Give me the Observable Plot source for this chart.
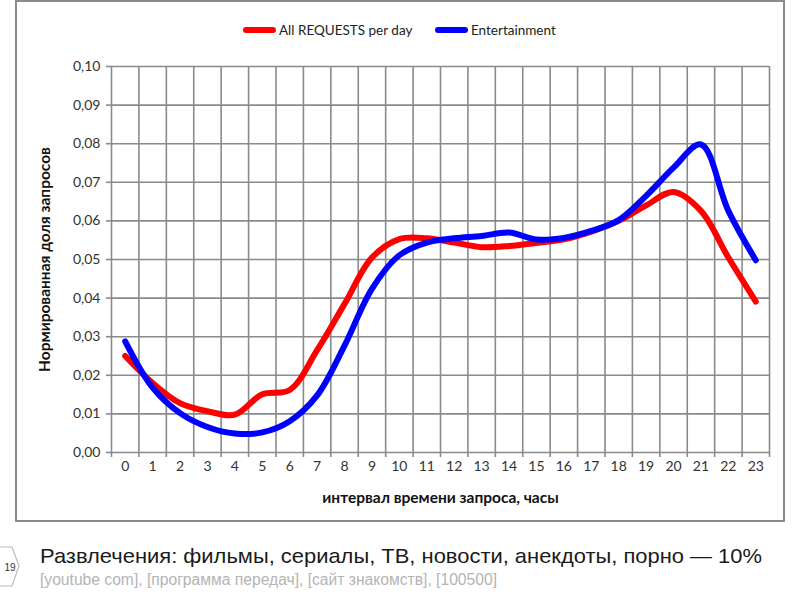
<!DOCTYPE html>
<html><head><meta charset="utf-8">
<script src="https://cdn.jsdelivr.net/npm/d3@7"></script>
<script src="https://cdn.jsdelivr.net/npm/@observablehq/plot@0.6"></script>
<style>
body{margin:0;background:#fff;width:800px;height:600px;position:relative;overflow:hidden;font-family:"Liberation Sans",Arial,sans-serif}
#frame{position:absolute;left:15px;top:0;width:766px;height:518px;border:2px solid #8c8c8c;background:#fff}
#legend{height:46px;position:relative;font-family:Lato,"Open Sans",sans-serif;font-size:13.5px;color:#222}
.item{position:absolute;top:28px;transform:translateY(-50%);display:flex;align-items:center;white-space:nowrap}
.sw{width:33px;height:6px;border-radius:3px;margin-right:3px}
#chart svg{display:block}
#tab{position:absolute;left:0;top:545px}
#cap{position:absolute;left:40px;top:544px;font-size:21px;color:#1a1a1a;white-space:nowrap;transform-origin:0 0}
#sub{position:absolute;left:40px;top:571px;font-size:16px;color:#b4b4b4;white-space:nowrap;transform-origin:0 0}
</style></head>
<body>
<div id="frame">
  <div id="legend"></div>
  <div id="chart"></div>
</div>
<svg id="tab" width="30" height="45"><polyline points="-1,2 12,2 19,21 12,41 -1,41" fill="none" stroke="#bbb" stroke-width="1.2"/><text x="10" y="26" font-size="10" fill="#333" text-anchor="middle" font-family="Liberation Sans">19</text></svg>
<div id="cap">Развлечения: фильмы, сериалы, ТВ, новости, анекдоты, порно — 10%</div>
<div id="sub">[youtube com], [программа передач], [сайт знакомств], [100500]</div>
<script>
const hours = [0,1,2,3,4,5,6,7,8,9,10,11,12,13,14,15,16,17,18,19,20,21,22,23];
const allRequests = [0.025,0.018,0.0128,0.0107,0.0098,0.0151,0.0162,0.0265,0.0385,0.0505,0.0553,0.0555,0.0544,0.0532,0.0535,0.0543,0.0552,0.0572,0.0600,0.0640,0.0675,0.0626,0.0505,0.0391];
const entertainment = [0.0288,0.0168,0.0102,0.0066,0.0049,0.0052,0.0081,0.0148,0.0277,0.0424,0.0511,0.0544,0.0555,0.0561,0.0570,0.0552,0.0556,0.0574,0.0602,0.0665,0.0738,0.0798,0.0626,0.0498];
const seriesNames = ["All REQUESTS per day","Entertainment"];
const seriesColors = ["#ff0000","#0000ff"];
const yTicks = [0,0.01,0.02,0.03,0.04,0.05,0.06,0.07,0.08,0.09,0.10];
const boundaries = [-0.5,0.5,1.5,2.5,3.5,4.5,5.5,6.5,7.5,8.5,9.5,10.5,11.5,12.5,13.5,14.5,15.5,16.5,17.5,18.5,19.5,20.5,21.5,22.5,23.5];
const yTitle = "Нормированная доля запросов";
const xTitle = "интервал времени запроса, часы";

const rows = [];
hours.forEach((h,i)=>rows.push({hour:h,value:allRequests[i],series:seriesNames[0]}));
hours.forEach((h,i)=>rows.push({hour:h,value:entertainment[i],series:seriesNames[1]}));

// legend (HTML, above the SVG); left positions relative to frame inner edge (x=17)
const legendLeft = [226, 418];
const legend = document.getElementById("legend");
seriesNames.forEach((n,i)=>{
  const it = document.createElement("div"); it.className="item"; it.style.left = legendLeft[i]+"px";
  const sw = document.createElement("div"); sw.className="sw"; sw.style.background=seriesColors[i];
  const t = document.createElement("span"); t.textContent=n;
  it.appendChild(sw); it.appendChild(t); legend.appendChild(it);
});

const grid = "#8a8a8a";
const chart = Plot.plot({
  width:766, height:472,
  marginTop:18, marginBottom:68, marginLeft:94, marginRight:14,
  style:{fontFamily:"Lato, 'Open Sans', sans-serif", fontSize:"14px", color:"#333", background:"transparent"},
  x:{domain:[-0.5,23.5]},
  y:{domain:[0,0.10]},
  color:{domain:seriesNames, range:seriesColors},
  marks:[
    Plot.ruleX(boundaries,{stroke:grid,strokeWidth:1.6}),
    Plot.ruleY(yTicks,{stroke:grid,strokeWidth:1.6}),
    Plot.axisY({ticks:yTicks, tickFormat:d=>d.toFixed(2).replace(".",","), tickSize:5, tickPadding:6, stroke:grid, strokeWidth:1.6, label:null, fontSize:14}),
    Plot.axisX({ticks:boundaries, tickFormat:()=>"", tickSize:5, stroke:grid, strokeWidth:1.6, label:null}),
    Plot.axisX({ticks:hours, tickFormat:d=>String(d), tickSize:0, tickPadding:9, label:null, fontSize:14}),
    Plot.text([yTitle],{frameAnchor:"left", textAnchor:"middle", lineAnchor:"middle", rotate:-90, dx:-66, fontWeight:"bold", fontSize:15.5, fill:"#111"}),
    Plot.text([xTitle],{frameAnchor:"bottom", textAnchor:"middle", lineAnchor:"middle", dy:46, fontWeight:"bold", fontSize:15.5, fill:"#111"}),
    Plot.line(rows,{x:"hour", y:"value", stroke:"series", z:"series", curve:"catmull-rom", strokeWidth:6, strokeLinecap:"round", strokeLinejoin:"round"})
  ]
});
document.getElementById("chart").appendChild(chart);

// fit caption widths to the reference's measured spans
function fit(id, target){
  const el = document.getElementById(id);
  const w = el.getBoundingClientRect().width;
  el.style.transform = `scaleX(${target / w})`;
}
fit("cap", 722);
fit("sub", 457);
</script>
</body></html>
